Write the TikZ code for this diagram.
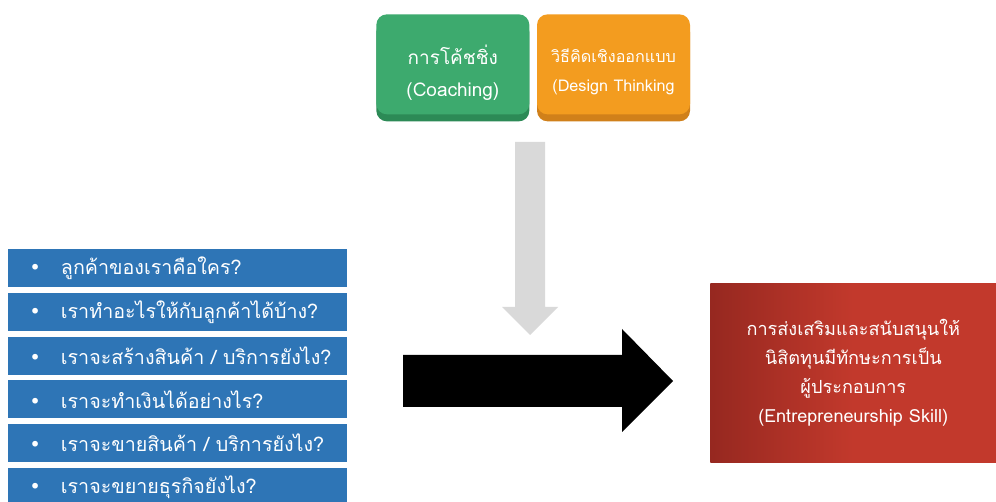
\documentclass[tikz,border=0pt]{standalone}
\usepackage{fontspec}
\newfontfamily\thaifont[Script=Thai]{Loma}
\newfontfamily\symfont{DejaVu Sans}
\usetikzlibrary{positioning}
\usetikzlibrary{shadows}

\definecolor{coachgreen}{HTML}{3DAA6E}
\definecolor{coachshade}{HTML}{2C8A56}
\definecolor{designorange}{HTML}{F39C1F}
\definecolor{designshade}{HTML}{D0801A}
\definecolor{listblue}{HTML}{2E75B6}
\definecolor{skilldark}{HTML}{962820}
\definecolor{skillred}{HTML}{C2392C}
\definecolor{downgray}{HTML}{D9D9D9}

\begin{document}
\begin{tikzpicture}[x=0.02cm, y=-0.02cm,
    topbox/.style ={rectangle, rounded corners=6pt,
                    minimum width=3.06cm, minimum height=2cm, anchor=north west,
                    drop shadow={shadow xshift=0pt, shadow yshift=-4pt, opacity=1, fill=#1}},
    toptext/.style={text=white, align=center, yshift=-4.8pt},
    qrow/.style   ={rectangle, fill=listblue, text=white, anchor=north west,
                    minimum width=6.78cm, minimum height=0.76cm,
                    inner xsep=0pt, inner ysep=0pt,
                    text width=6.78cm, align=left,
                    font=\thaifont\fontsize{11.2}{14}\selectfont},
    goalbox/.style={rectangle, left color=skilldark, right color=skillred,
                    middle color=skillred, text=white, align=center, anchor=north west,
                    minimum width=5.72cm, minimum height=3.58cm,
                    font=\thaifont\fontsize{10.3}{16.4}\selectfont},
    node distance=0.1cm
  ]
  \path[use as bounding box, clip] (0,0) rectangle (996,502);
  \fill[white] (0,0) rectangle (996,502);

  % top inputs
  \node [topbox=coachshade, fill=coachgreen,
         label={[toptext, font=\thaifont\fontsize{10.8}{18}\selectfont]center:การโค้ชชิ่ง\\(Coaching)}]
        (coach) at (376,14) {};
  \node [topbox=designshade, fill=designorange,
         label={[toptext, yshift=0.6pt, font=\thaifont\fontsize{9.2}{16.4}\selectfont]center:วิธีคิดเชิงออกแบบ\\(Design Thinking}]
        (design) [right=0.14cm of coach.north east, anchor=north west] {};

  % questions
  \node [qrow] (q1) at (8,249) {\hspace{0.42cm}{\symfont •}\hspace{0.4cm}ลูกค้าของเราคือใคร?};
  \node [qrow] (q2) [below=of q1.south west, anchor=north west] {\hspace{0.42cm}{\symfont •}\hspace{0.4cm}เราทำอะไรให้กับลูกค้าได้บ้าง?};
  \node [qrow] (q3) [below=of q2.south west, anchor=north west] {\hspace{0.42cm}{\symfont •}\hspace{0.4cm}เราจะสร้างสินค้า / บริการยังไง?};
  \node [qrow] (q4) [below=of q3.south west, anchor=north west] {\hspace{0.42cm}{\symfont •}\hspace{0.4cm}เราจะทำเงินได้อย่างไร?};
  \node [qrow] (q5) [below=of q4.south west, anchor=north west] {\hspace{0.42cm}{\symfont •}\hspace{0.4cm}เราจะขายสินค้า / บริการยังไง?};
  \node [qrow] (q6) [below=of q5.south west, anchor=north west] {\hspace{0.42cm}{\symfont •}\hspace{0.4cm}เราจะขยายธุรกิจยังไง?};

  % result
  \node [goalbox] (goal) at (710,283)
        {การส่งเสริมและสนับสนุนให้\\นิสิตทุนมีทักษะการเป็น\\ผู้ประกอบการ\\(Entrepreneurship Skill)};

  % block arrows
  \fill [downgray] (515,142) -- (545,142) -- (545,307) -- (558,307) -- (530,335)
                   -- (502,307) -- (515,307) -- cycle;
  \fill [black] (403,355) -- (622,355) -- (622,329) -- (673,381) -- (622,432)
                -- (622,407) -- (403,407) -- cycle;
\end{tikzpicture}
\end{document}
